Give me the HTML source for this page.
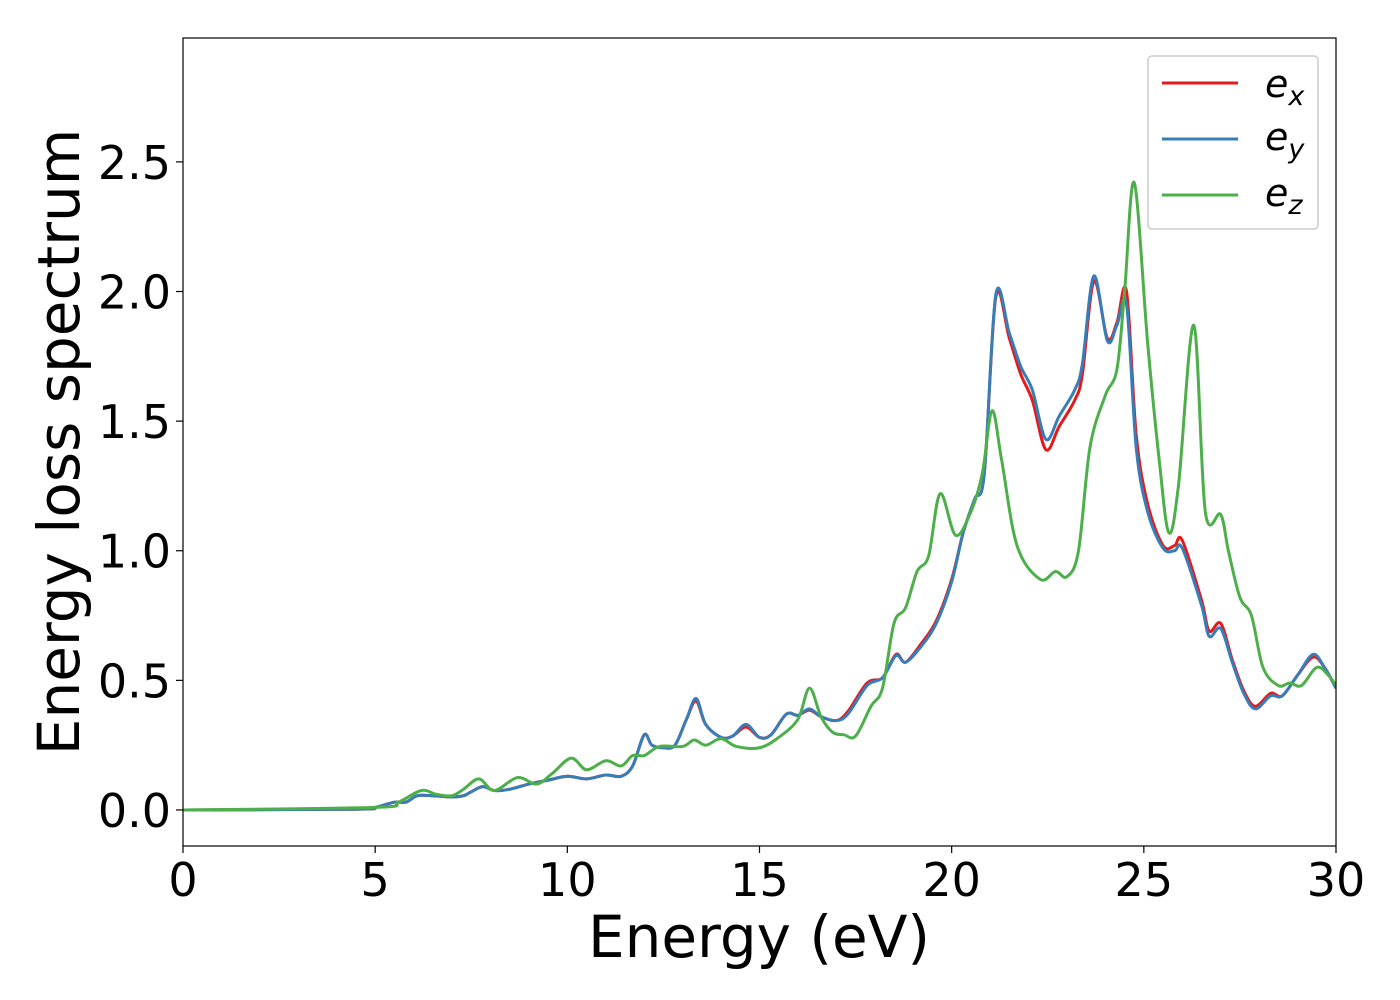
<!DOCTYPE html>
<html><head><meta charset="utf-8"><style>
body{margin:0;background:#fff}
svg{display:block;font-family:"DejaVu Sans","Liberation Sans",sans-serif}
</style></head><body>
<svg id="chart" width="1400" height="1000">
<rect x="0" y="0" width="1400" height="1000" fill="#fff"/>
<g id="plot"></g>
<g id="axes"></g>
<text x="759" y="957" font-size="58" text-anchor="middle">Energy (eV)</text>
<text transform="translate(79,442) rotate(-90)" font-size="58" text-anchor="middle">Energy loss spectrum</text>
<g>
<rect x="1148" y="56" width="170" height="173" rx="4" fill="#fff" stroke="#ccc" stroke-width="1.5"/>
<g><line x1="1162" y1="83" x2="1238" y2="83" stroke="#e41a1c" stroke-width="3"/><text x="1265" y="97" font-size="38" font-style="italic">e<tspan font-size="27" dy="8">x</tspan></text></g>
<g><line x1="1162" y1="139" x2="1238" y2="139" stroke="#377eb8" stroke-width="3"/><text x="1265" y="150" font-size="38" font-style="italic">e<tspan font-size="27" dy="8">y</tspan></text></g>
<g><line x1="1162" y1="195" x2="1238" y2="195" stroke="#4daf4a" stroke-width="3"/><text x="1265" y="206" font-size="38" font-style="italic">e<tspan font-size="27" dy="8">z</tspan></text></g>
</g>
</svg>
<script>
const xTicks=[0,5,10,15,20,25,30];
const yTicks=[0.0,0.5,1.0,1.5,2.0,2.5];
const yTickLabels=["0.0","0.5","1.0","1.5","2.0","2.5"];
const eyE=[0,4.5,5,5.5,5.8,6.1,6.5,7,7.3,7.5,7.8,8.1,8.5,9,9.5,10,10.5,11,11.4,11.7,12,12.2,12.5,12.8,13.1,13.35,13.6,14,14.3,14.65,15,15.3,15.7,16,16.3,16.6,17,17.3,17.8,18.2,18.55,18.8,19.2,19.6,20,20.3,20.6,20.85,21.15,21.5,21.8,22.1,22.45,22.8,23.2,23.4,23.7,24.05,24.3,24.55,24.8,25.1,25.5,25.8,26,26.5,26.7,27,27.3,27.6,27.9,28.3,28.6,29,29.4,29.7,30];
const eyV=[0,0.003,0.01,0.03,0.03,0.055,0.055,0.05,0.055,0.07,0.09,0.075,0.08,0.1,0.115,0.13,0.12,0.135,0.13,0.17,0.29,0.25,0.24,0.25,0.35,0.43,0.33,0.28,0.285,0.33,0.28,0.29,0.37,0.365,0.39,0.36,0.345,0.37,0.48,0.51,0.595,0.57,0.63,0.72,0.88,1.07,1.2,1.3,1.99,1.84,1.71,1.62,1.43,1.52,1.62,1.72,2.06,1.81,1.87,1.95,1.4,1.15,1.01,1.0,1.01,0.79,0.67,0.7,0.57,0.45,0.39,0.44,0.44,0.52,0.6,0.55,0.47];
const exV=[0,0.003,0.01,0.03,0.03,0.055,0.055,0.05,0.055,0.07,0.09,0.075,0.08,0.1,0.115,0.13,0.12,0.135,0.13,0.17,0.29,0.25,0.24,0.25,0.35,0.42,0.33,0.28,0.285,0.32,0.28,0.29,0.37,0.365,0.385,0.36,0.345,0.38,0.49,0.51,0.6,0.57,0.64,0.73,0.89,1.07,1.2,1.3,1.98,1.82,1.68,1.58,1.39,1.48,1.58,1.68,2.04,1.82,1.88,2.0,1.45,1.18,1.02,1.02,1.04,0.81,0.69,0.72,0.58,0.46,0.4,0.45,0.44,0.52,0.59,0.55,0.47];
const ezE=[0,5,5.6,6.2,6.6,7,7.3,7.7,8.1,8.7,9.2,9.6,10.1,10.5,11,11.4,11.7,12,12.4,13,13.3,13.6,14,14.4,15,15.5,16,16.3,16.6,16.9,17.2,17.5,17.9,18.2,18.5,18.8,19.1,19.4,19.7,20.1,20.5,20.8,21.05,21.3,21.7,22.3,22.7,23,23.3,23.6,24,24.3,24.5,24.75,25.1,25.4,25.65,25.9,26.3,26.6,27,27.2,27.5,27.8,28.1,28.5,28.8,29.1,29.5,29.8,30];
const ezV=[0,0.01,0.03,0.075,0.06,0.055,0.08,0.12,0.075,0.125,0.1,0.14,0.2,0.155,0.19,0.17,0.21,0.21,0.245,0.245,0.27,0.25,0.275,0.245,0.24,0.28,0.35,0.47,0.36,0.3,0.29,0.285,0.4,0.47,0.72,0.78,0.92,0.98,1.22,1.06,1.15,1.3,1.54,1.35,1.02,0.89,0.92,0.9,1.0,1.4,1.6,1.7,2.0,2.42,1.8,1.35,1.07,1.25,1.87,1.15,1.14,1.0,0.82,0.75,0.55,0.48,0.49,0.48,0.55,0.52,0.48];
const X0=183,X1=1336,Y0=38,Y1=846;
const xMin=0,xMax=30,yMin=-0.139,yMax=2.978;
const sx=v=>X0+(v-xMin)/(xMax-xMin)*(X1-X0);
const sy=v=>Y1-(v-yMin)/(yMax-yMin)*(Y1-Y0);
const NS="http://www.w3.org/2000/svg";
const plot=document.getElementById('plot'),axes=document.getElementById('axes');
function smooth(xs,ys){
  const p=xs.map((x,i)=>[sx(x),sy(ys[i])]);
  let d=`M${p[0][0]},${p[0][1]}`;
  for(let i=0;i<p.length-1;i++){
    const a=p[Math.max(i-1,0)],b=p[i],c=p[i+1],e=p[Math.min(i+2,p.length-1)];
    const c1=[b[0]+(c[0]-a[0])/6,b[1]+(c[1]-a[1])/6],c2=[c[0]-(e[0]-b[0])/6,c[1]-(e[1]-b[1])/6];
    d+=`C${c1[0]},${c1[1]} ${c2[0]},${c2[1]} ${c[0]},${c[1]}`;
  }
  return d;
}
const clip=document.createElementNS(NS,'clipPath');clip.id='cp';
const cr=document.createElementNS(NS,'rect');cr.setAttribute('x',X0);cr.setAttribute('y',Y0);cr.setAttribute('width',X1-X0);cr.setAttribute('height',Y1-Y0);
clip.appendChild(cr);document.getElementById('chart').appendChild(clip);
plot.setAttribute('clip-path','url(#cp)');
const series=[["series-ex",eyE,exV,"#e41a1c"],["series-ey",eyE,eyV,"#377eb8"],["series-ez",ezE,ezV,"#4daf4a"]];
series.forEach(s=>{
  const path=document.createElementNS(NS,'path');
  path.setAttribute('d',smooth(s[1],s[2]));
  path.setAttribute('fill','none');path.setAttribute('stroke',s[3]);path.setAttribute('stroke-width','3');
  
  
  plot.appendChild(path);
});
const frame=document.createElementNS(NS,'rect');
frame.setAttribute('x',X0);frame.setAttribute('y',Y0);frame.setAttribute('width',X1-X0);frame.setAttribute('height',Y1-Y0);
frame.setAttribute('fill','none');frame.setAttribute('stroke','#000');frame.setAttribute('stroke-width','1.2');


axes.appendChild(frame);
xTicks.forEach(t=>{
  const l=document.createElementNS(NS,'line');
  l.setAttribute('x1',sx(t));l.setAttribute('x2',sx(t));l.setAttribute('y1',Y1);l.setAttribute('y2',Y1+7);l.setAttribute('stroke','#000');l.setAttribute('stroke-width','1.2');
  
  
  axes.appendChild(l);
  const tx=document.createElementNS(NS,'text');
  tx.setAttribute('x',sx(t));tx.setAttribute('y',Y1+50);tx.setAttribute('font-size','46');tx.setAttribute('text-anchor','middle');
  tx.textContent=String(t);
  
  
  axes.appendChild(tx);
});
yTicks.forEach((t,i)=>{
  const l=document.createElementNS(NS,'line');
  l.setAttribute('x1',X0-7);l.setAttribute('x2',X0);l.setAttribute('y1',sy(t));l.setAttribute('y2',sy(t));l.setAttribute('stroke','#000');l.setAttribute('stroke-width','1.2');
  
  
  axes.appendChild(l);
  const tx=document.createElementNS(NS,'text');
  tx.setAttribute('x',X0-12);tx.setAttribute('y',sy(t)+17);tx.setAttribute('font-size','46');tx.setAttribute('text-anchor','end');
  tx.textContent=yTickLabels[i];
  
  
  axes.appendChild(tx);
});
</script>
</body></html>
